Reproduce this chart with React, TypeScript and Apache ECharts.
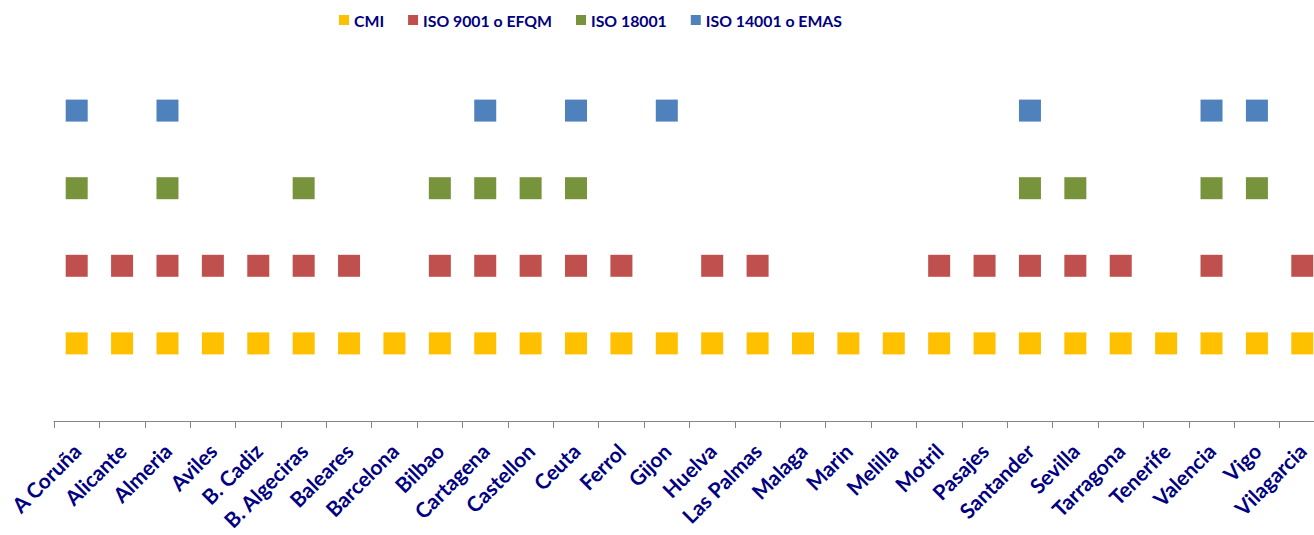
import React, { useEffect, useRef } from "react";
import * as echarts from "echarts";

const categories = [
  "A Coruña", "Alicante", "Almeria", "Aviles", "B. Cadiz", "B. Algeciras", "Baleares",
  "Barcelona", "Bilbao", "Cartagena", "Castellon", "Ceuta", "Ferrol", "Gijon", "Huelva",
  "Las Palmas", "Malaga", "Marin", "Melilla", "Motril", "Pasajes", "Santander", "Sevilla",
  "Tarragona", "Tenerife", "Valencia", "Vigo", "Vilagarcia",
];

const _ = null;
const cmi = [1, 1, 1, 1, 1, 1, 1, 1, 1, 1, 1, 1, 1, 1, 1, 1, 1, 1, 1, 1, 1, 1, 1, 1, 1, 1, 1, 1];
const iso9001 = [2, 2, 2, 2, 2, 2, 2, _, 2, 2, 2, 2, 2, _, 2, 2, _, _, _, 2, 2, 2, 2, 2, _, 2, _, 2];
const iso18001 = [3, _, 3, _, _, 3, _, _, 3, 3, 3, 3, _, _, _, _, _, _, _, _, _, 3, 3, _, _, 3, 3, _];
const iso14001 = [4, _, 4, _, _, _, _, _, _, 4, _, 4, _, 4, _, _, _, _, _, _, _, 4, _, _, _, 4, 4, _];

const seriesNames = ["CMI", "ISO 9001 o EFQM", "ISO 18001", "ISO 14001 o EMAS"];
const seriesColors = ["#FFC000", "#C0504D", "#77933C", "#4F81BD"];
const seriesData = [cmi, iso9001, iso18001, iso14001];

const FONT = "Lato";
const NAVY = "#000080";

export default function App() {
  const ref = useRef<HTMLDivElement>(null);
  useEffect(() => {
    if (!ref.current) return;
    const chart = echarts.init(ref.current, undefined, { renderer: "svg" });
    chart.setOption({
      animation: false,
      legend: {
        top: 12,
        left: 339,
        padding: 0,
        itemWidth: 10,
        itemHeight: 10,
        itemGap: 24,
        icon: "rect",
        textStyle: { color: NAVY, fontFamily: FONT, fontWeight: "bold", fontSize: 15.8 },
        data: seriesNames,
      },
      grid: {
        left: 54,
        right: 5,
        top: 33,
        bottom: 114,
        containLabel: false,
        outerBoundsMode: "none",
      },
      xAxis: {
        type: "category",
        data: categories,
        boundaryGap: true,
        axisLine: { lineStyle: { color: "#868686", width: 1 } },
        axisTick: { show: true, length: 7, lineStyle: { color: "#868686" } },
        axisLabel: {
          interval: 0,
          rotate: 45,
          margin: 26,
          color: NAVY,
          fontFamily: FONT,
          fontWeight: "bold",
          fontSize: 21,
        },
      },
      yAxis: {
        type: "value",
        min: 0,
        max: 5,
        interval: 1,
        show: false,
        splitLine: { show: false },
      },
      series: seriesNames.map((name, i) => ({
        name,
        type: "scatter",
        symbol: "rect",
        symbolSize: 22,
        itemStyle: { color: seriesColors[i], opacity: 1 },
        data: seriesData[i],
      })),
    });
    return () => chart.dispose();
  }, []);
  return (
    <div style={{ position: "absolute", left: 0, top: 0, width: 1314, height: 535, overflow: "hidden", background: "#fff" }}>
      <div ref={ref} style={{ width: 1330, height: 535 }} />
    </div>
  );
}
